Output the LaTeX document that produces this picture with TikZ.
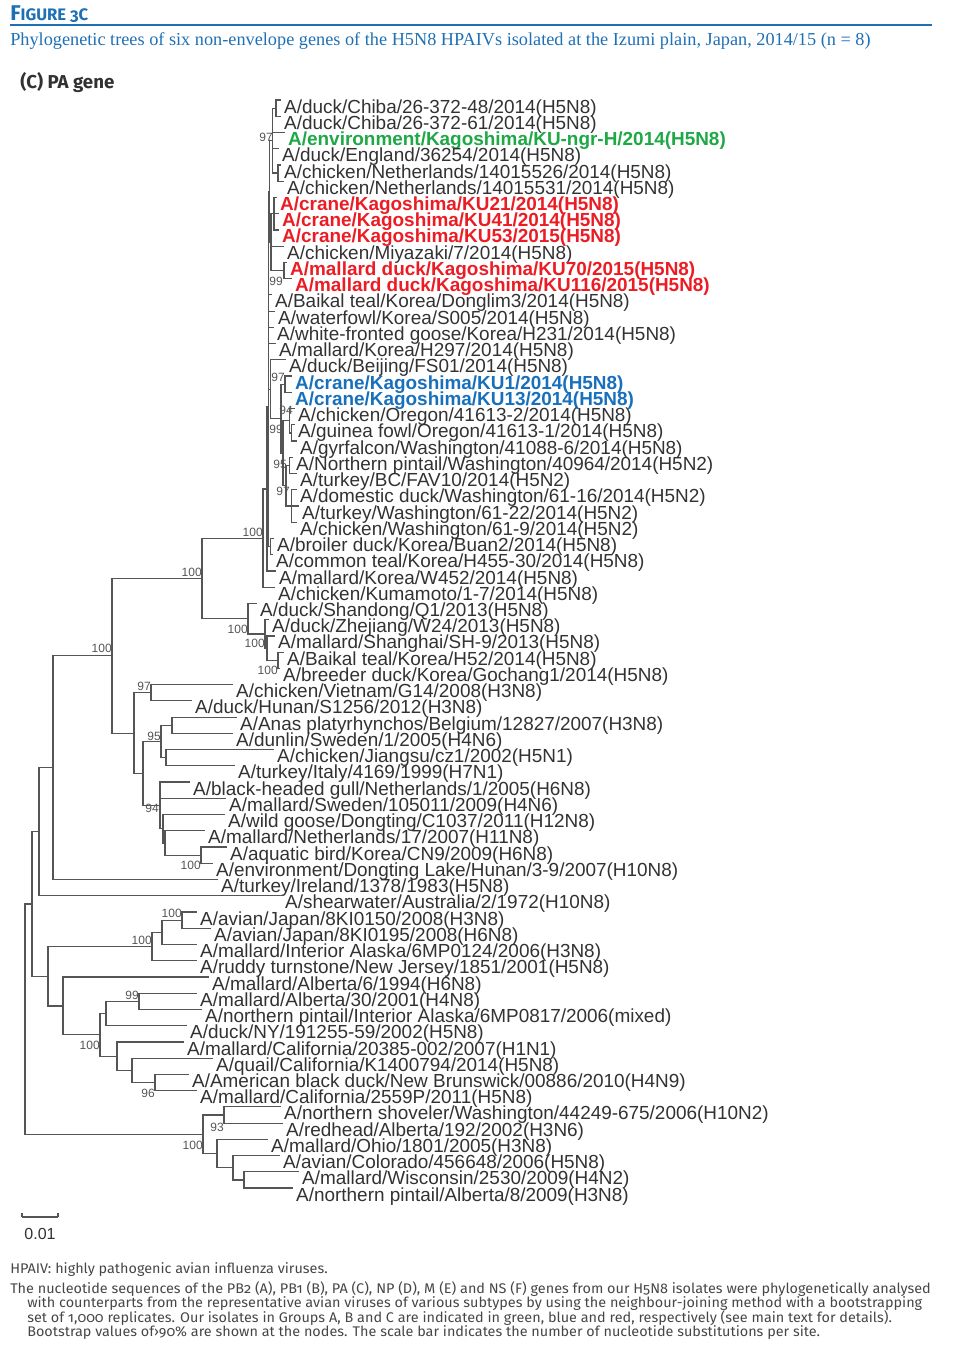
\documentclass[tikz,border=0pt]{standalone}
\usepackage{fontspec}
\usepackage{tikz}
\newfontfamily\leaffont{Liberation Sans}
\newfontfamily\capfont{Liberation Serif}
\newfontfamily\headfont[Numbers=OldStyle]{Fira Sans}
\newfontfamily\notefont[FakeStretch=1.03,Numbers=OldStyle]{Fira Sans}
\definecolor{figblue}{RGB}{30,112,182}
\definecolor{isogreen}{RGB}{30,168,70}
\definecolor{isored}{RGB}{236,28,36}
\definecolor{isoblue}{RGB}{24,112,188}
\definecolor{treegray}{RGB}{85,85,85}
\definecolor{textgray}{RGB}{50,50,50}
\definecolor{notegray}{RGB}{70,70,70}
\tikzset{
	branch/.style={draw=treegray, line width=0.9pt},
	leaf/.style={anchor=north west, inner xsep=2.2pt, inner ysep=0pt, text height=9.6pt, text depth=2.4pt, text=textgray, font=\leaffont\fontsize{14.2}{16}\selectfont},
	isoA/.style={leaf, text=isogreen, font=\leaffont\bfseries\fontsize{14.2}{16}\selectfont},
	isoB/.style={leaf, text=isoblue, font=\leaffont\bfseries\fontsize{14.2}{16}\selectfont},
	isoC/.style={leaf, text=isored, font=\leaffont\bfseries\fontsize{14.2}{16}\selectfont},
	boot/.style={anchor=east, inner sep=0pt, text=treegray, font=\leaffont\fontsize{9}{10}\selectfont},
	note/.style={anchor=base west, inner sep=0pt, text=notegray, font=\notefont\fontsize{10.5}{12}\selectfont}
}
\begin{document}
\begin{tikzpicture}[x=0.75pt, y=-0.75pt]
	\useasboundingbox (0,0) rectangle (954,1345);
	\node[anchor=base west, inner sep=0pt, text=figblue, font=\headfont\bfseries] (fig) at (10,21) {{\fontsize{16}{18}\selectfont F}{\fontsize{12.5}{14}\selectfont IGURE 3C}};
	\draw[figblue, line width=1.5pt] (10,25) -- (932,25);
	\node[anchor=base west, inner sep=0pt, text=figblue, font=\capfont\fontsize{13.7}{15}\selectfont] (sub) at (10,46) {Phylogenetic trees of six non-envelope genes of the H5N8 HPAIVs isolated at the Izumi plain, Japan, 2014/15 (n = 8)};
	\node[anchor=base west, inner sep=0pt, text=textgray, font=\headfont\bfseries\fontsize{14}{16}\selectfont] (panel) at (20,89) {(C) PA gene};

	\node[leaf] (l1) at (281,100) {A/duck/Chiba/26-372-48/2014(H5N8)};
	\node[leaf] (l2) at (281,116.24) {A/duck/Chiba/26-372-61/2014(H5N8)};
	\node[isoA] (l3) at (285,132.48) {A/environment/Kagoshima/KU-ngr-H/2014(H5N8)};
	\node[leaf] (l4) at (279,148.72) {A/duck/England/36254/2014(H5N8)};
	\node[leaf] (l5) at (281,164.96) {A/chicken/Netherlands/14015526/2014(H5N8)};
	\node[leaf] (l6) at (284,181.2) {A/chicken/Netherlands/14015531/2014(H5N8)};
	\node[isoC] (l7) at (277,197.44) {A/crane/Kagoshima/KU21/2014(H5N8)};
	\node[isoC] (l8) at (279,213.68) {A/crane/Kagoshima/KU41/2014(H5N8)};
	\node[isoC] (l9) at (279,229.92) {A/crane/Kagoshima/KU53/2015(H5N8)};
	\node[leaf] (l10) at (284,246.16) {A/chicken/Miyazaki/7/2014(H5N8)};
	\node[isoC] (l11) at (287,262.4) {A/mallard duck/Kagoshima/KU70/2015(H5N8)};
	\node[isoC] (l12) at (292,278.64) {A/mallard duck/Kagoshima/KU116/2015(H5N8)};
	\node[leaf] (l13) at (272,294.88) {A/Baikal teal/Korea/Donglim3/2014(H5N8)};
	\node[leaf] (l14) at (275,311.12) {A/waterfowl/Korea/S005/2014(H5N8)};
	\node[leaf] (l15) at (274,327.36) {A/white-fronted goose/Korea/H231/2014(H5N8)};
	\node[leaf] (l16) at (276,343.6) {A/mallard/Korea/H297/2014(H5N8)};
	\node[leaf] (l17) at (286,359.84) {A/duck/Beijing/FS01/2014(H5N8)};
	\node[isoB] (l18) at (292,376.08) {A/crane/Kagoshima/KU1/2014(H5N8)};
	\node[isoB] (l19) at (292,392.32) {A/crane/Kagoshima/KU13/2014(H5N8)};
	\node[leaf] (l20) at (295,408.56) {A/chicken/Oregon/41613-2/2014(H5N8)};
	\node[leaf] (l21) at (295,424.8) {A/guinea fowl/Oregon/41613-1/2014(H5N8)};
	\node[leaf] (l22) at (297,441.04) {A/gyrfalcon/Washington/41088-6/2014(H5N8)};
	\node[leaf] (l23) at (293,457.28) {A/Northern pintail/Washington/40964/2014(H5N2)};
	\node[leaf] (l24) at (297,473.52) {A/turkey/BC/FAV10/2014(H5N2)};
	\node[leaf] (l25) at (297,489.76) {A/domestic duck/Washington/61-16/2014(H5N2)};
	\node[leaf] (l26) at (299,506) {A/turkey/Washington/61-22/2014(H5N2)};
	\node[leaf] (l27) at (297,522.24) {A/chicken/Washington/61-9/2014(H5N2)};
	\node[leaf] (l28) at (274,538.48) {A/broiler duck/Korea/Buan2/2014(H5N8)};
	\node[leaf] (l29) at (273,554.72) {A/common teal/Korea/H455-30/2014(H5N8)};
	\node[leaf] (l30) at (276,570.96) {A/mallard/Korea/W452/2014(H5N8)};
	\node[leaf] (l31) at (275,587.2) {A/chicken/Kumamoto/1-7/2014(H5N8)};
	\node[leaf] (l32) at (257,603.44) {A/duck/Shandong/Q1/2013(H5N8)};
	\node[leaf] (l33) at (269,619.68) {A/duck/Zhejiang/W24/2013(H5N8)};
	\node[leaf] (l34) at (275,635.92) {A/mallard/Shanghai/SH-9/2013(H5N8)};
	\node[leaf] (l35) at (284,652.16) {A/Baikal teal/Korea/H52/2014(H5N8)};
	\node[leaf] (l36) at (280,668.4) {A/breeder duck/Korea/Gochang1/2014(H5N8)};
	\node[leaf] (l37) at (233,684.64) {A/chicken/Vietnam/G14/2008(H3N8)};
	\node[leaf] (l38) at (192,700.88) {A/duck/Hunan/S1256/2012(H3N8)};
	\node[leaf] (l39) at (237,717.12) {A/Anas platyrhynchos/Belgium/12827/2007(H3N8)};
	\node[leaf] (l40) at (233,733.36) {A/dunlin/Sweden/1/2005(H4N6)};
	\node[leaf] (l41) at (274,749.6) {A/chicken/Jiangsu/cz1/2002(H5N1)};
	\node[leaf] (l42) at (235,765.84) {A/turkey/Italy/4169/1999(H7N1)};
	\node[leaf] (l43) at (190,782.08) {A/black-headed gull/Netherlands/1/2005(H6N8)};
	\node[leaf] (l44) at (226,798.32) {A/mallard/Sweden/105011/2009(H4N6)};
	\node[leaf] (l45) at (225,814.56) {A/wild goose/Dongting/C1037/2011(H12N8)};
	\node[leaf] (l46) at (205,830.8) {A/mallard/Netherlands/17/2007(H11N8)};
	\node[leaf] (l47) at (227,847.04) {A/aquatic bird/Korea/CN9/2009(H6N8)};
	\node[leaf] (l48) at (213,863.28) {A/environment/Dongting Lake/Hunan/3-9/2007(H10N8)};
	\node[leaf] (l49) at (218,879.52) {A/turkey/Ireland/1378/1983(H5N8)};
	\node[leaf] (l50) at (282,895.76) {A/shearwater/Australia/2/1972(H10N8)};
	\node[leaf] (l51) at (197,912) {A/avian/Japan/8KI0150/2008(H3N8)};
	\node[leaf] (l52) at (211,928.24) {A/avian/Japan/8KI0195/2008(H6N8)};
	\node[leaf] (l53) at (197,944.48) {A/mallard/Interior Alaska/6MP0124/2006(H3N8)};
	\node[leaf] (l54) at (197,960.72) {A/ruddy turnstone/New Jersey/1851/2001(H5N8)};
	\node[leaf] (l55) at (209,976.96) {A/mallard/Alberta/6/1994(H6N8)};
	\node[leaf] (l56) at (197,993.2) {A/mallard/Alberta/30/2001(H4N8)};
	\node[leaf] (l57) at (202,1009.44) {A/northern pintail/Interior Alaska/6MP0817/2006(mixed)};
	\node[leaf] (l58) at (187,1025.68) {A/duck/NY/191255-59/2002(H5N8)};
	\node[leaf] (l59) at (184,1041.92) {A/mallard/California/20385-002/2007(H1N1)};
	\node[leaf] (l60) at (213,1058.16) {A/quail/California/K1400794/2014(H5N8)};
	\node[leaf] (l61) at (189,1074.4) {A/American black duck/New Brunswick/00886/2010(H4N9)};
	\node[leaf] (l62) at (197,1090.64) {A/mallard/California/2559P/2011(H5N8)};
	\node[leaf] (l63) at (281,1106.88) {A/northern shoveler/Washington/44249-675/2006(H10N2)};
	\node[leaf] (l64) at (283,1123.12) {A/redhead/Alberta/192/2002(H3N6)};
	\node[leaf] (l65) at (268,1139.36) {A/mallard/Ohio/1801/2005(H3N8)};
	\node[leaf] (l66) at (280,1155.6) {A/avian/Colorado/456648/2006(H5N8)};
	\node[leaf] (l67) at (299,1171.84) {A/mallard/Wisconsin/2530/2009(H4N2)};
	\node[leaf] (l68) at (293,1188.08) {A/northern pintail/Alberta/8/2009(H3N8)};

	\coordinate (n45) at (276,108.12);
	\coordinate (n47) at (278,173.08);
	\coordinate (n46) at (272.5,140.6);
	\coordinate (n50) at (274,213.68);
	\coordinate (n48) at (284,270.52);
	\coordinate (n49) at (271,242.1);
	\coordinate (n44) at (269.5,191.35);
	\coordinate (n41) at (285,384.2);
	\coordinate (n53) at (291.5,432.92);
	\coordinate (n43) at (289.5,420.74);
	\coordinate (n54) at (289.5,465.4);
	\coordinate (n55) at (291.5,506);
	\coordinate (n52) at (286,485.7);
	\coordinate (n51) at (283,453.22);
	\coordinate (n42) at (281,418.71);
	\coordinate (n40) at (270.7,389.28);
	\coordinate (n39) at (270.5,546.6);
	\coordinate (n11) at (268.5,407);
	\coordinate (n10) at (267,489);
	\coordinate (n7) at (263,538.1);
	\coordinate (n38) at (278,660.28);
	\coordinate (n37) at (267,648.1);
	\coordinate (n9) at (265,633.9);
	\coordinate (n8) at (248,618.67);
	\coordinate (n6) at (202,578.4);
	\coordinate (n28) at (151,692.76);
	\coordinate (n32) at (172,725.24);
	\coordinate (n33) at (166,757.72);
	\coordinate (n30) at (161,741.48);
	\coordinate (n35) at (201,855.16);
	\coordinate (n36) at (165,843);
	\coordinate (n34) at (163,828.8);
	\coordinate (n31) at (160,805.4);
	\coordinate (n29) at (143,773.44);
	\coordinate (n27) at (134,733.1);
	\coordinate (n5) at (112,655.75);
	\coordinate (n4) at (53,767.6);
	\coordinate (n2) at (39,831.7);
	\coordinate (n15) at (182,920.12);
	\coordinate (n14) at (162,932.3);
	\coordinate (n12) at (152,946.5);
	\coordinate (n19) at (139,1001.32);
	\coordinate (n17) at (106,1013.5);
	\coordinate (n21) at (155,1082.52);
	\coordinate (n20) at (132,1070.34);
	\coordinate (n18) at (117,1056.13);
	\coordinate (n16) at (100,1034.8);
	\coordinate (n13) at (63,1005.9);
	\coordinate (n3) at (48,976.2);
	\coordinate (n1) at (32,903.95);
	\coordinate (n23) at (224,1115);
	\coordinate (n26) at (244,1179.96);
	\coordinate (n25) at (233,1167.78);
	\coordinate (n24) at (217,1153.57);
	\coordinate (n22) at (203,1134.29);
	\coordinate (root) at (25,1019.12);

	\draw[branch] (n45) |- (l1.north west) (n45) |- (l2.north west);
	\draw[branch] (n47) |- (l5.north west) (n47) |- (l6.north west);
	\draw[branch] (n46) |- (n45) (n46) |- (l3.north west) (n46) |- (l4.north west) (n46) |- (n47);
	\draw[branch] (n50) |- (l7.north west) (n50) |- (l8.north west) (n50) |- (l9.north west);
	\draw[branch] (n48) |- (l11.north west) (n48) |- (l12.north west);
	\draw[branch] (n49) |- (n50) (n49) |- (l10.north west) (n49) |- (n48);
	\draw[branch] (n44) |- (n46) (n44) |- (n49);
	\draw[branch] (n41) |- (l18.north west) (n41) |- (l19.north west);
	\draw[branch] (n53) |- (l21.north west) (n53) |- (l22.north west);
	\draw[branch] (n43) |- (l20.north west) (n43) |- (n53);
	\draw[branch] (n54) |- (l23.north west) (n54) |- (l24.north west);
	\draw[branch] (n55) |- (l25.north west) (n55) |- (l26.north west) (n55) |- (l27.north west);
	\draw[branch] (n52) |- (n54) (n52) |- (n55);
	\draw[branch] (n51) |- (n43) (n51) |- (n52);
	\draw[branch] (n42) |- (n41) (n42) |- (n51);
	\draw[branch] (n40) |- (l17.north west) (n40) |- (n42);
	\draw[branch] (n39) |- (l28.north west) (n39) |- (l29.north west);
	\draw[branch] (n11) |- (n44) (n11) |- (l13.north west) (n11) |- (l14.north west) (n11) |- (l15.north west) (n11) |- (l16.north west) (n11) |- (n40) (n11) |- (n39);
	\draw[branch] (n10) |- (n11) (n10) |- (l30.north west);
	\draw[branch] (n7) |- (n10) (n7) |- (l31.north west);
	\draw[branch] (n38) |- (l35.north west) (n38) |- (l36.north west);
	\draw[branch] (n37) |- (l34.north west) (n37) |- (n38);
	\draw[branch] (n9) |- (l33.north west) (n9) |- (n37);
	\draw[branch] (n8) |- (l32.north west) (n8) |- (n9);
	\draw[branch] (n6) |- (n7) (n6) |- (n8);
	\draw[branch] (n28) |- (l37.north west) (n28) |- (l38.north west);
	\draw[branch] (n32) |- (l39.north west) (n32) |- (l40.north west);
	\draw[branch] (n33) |- (l41.north west) (n33) |- (l42.north west);
	\draw[branch] (n30) |- (n32) (n30) |- (n33);
	\draw[branch] (n35) |- (l47.north west) (n35) |- (l48.north west);
	\draw[branch] (n36) |- (l46.north west) (n36) |- (n35);
	\draw[branch] (n34) |- (l45.north west) (n34) |- (n36);
	\draw[branch] (n31) |- (l43.north west) (n31) |- (l44.north west) (n31) |- (n34);
	\draw[branch] (n29) |- (n30) (n29) |- (n31);
	\draw[branch] (n27) |- (n28) (n27) |- (n29);
	\draw[branch] (n5) |- (n6) (n5) |- (n27);
	\draw[branch] (n4) |- (n5) (n4) |- (l49.north west);
	\draw[branch] (n2) |- (n4) (n2) |- (l50.north west);
	\draw[branch] (n15) |- (l51.north west) (n15) |- (l52.north west);
	\draw[branch] (n14) |- (n15) (n14) |- (l53.north west);
	\draw[branch] (n12) |- (n14) (n12) |- (l54.north west);
	\draw[branch] (n19) |- (l56.north west) (n19) |- (l57.north west);
	\draw[branch] (n17) |- (n19) (n17) |- (l58.north west);
	\draw[branch] (n21) |- (l61.north west) (n21) |- (l62.north west);
	\draw[branch] (n20) |- (l60.north west) (n20) |- (n21);
	\draw[branch] (n18) |- (l59.north west) (n18) |- (n20);
	\draw[branch] (n16) |- (n17) (n16) |- (n18);
	\draw[branch] (n13) |- (l55.north west) (n13) |- (n16);
	\draw[branch] (n3) |- (n12) (n3) |- (n13);
	\draw[branch] (n1) |- (n2) (n1) |- (n3);
	\draw[branch] (n23) |- (l63.north west) (n23) |- (l64.north west);
	\draw[branch] (n26) |- (l67.north west) (n26) |- (l68.north west);
	\draw[branch] (n25) |- (l66.north west) (n25) |- (n26);
	\draw[branch] (n24) |- (l65.north west) (n24) |- (n25);
	\draw[branch] (n22) |- (n23) (n22) |- (n24);
	\draw[branch] (root) |- (n1) (root) |- (n22);

	\node[boot] (b1) at (273,137) {97};
	\node[boot] (b2) at (283,281) {99};
	\node[boot] (b3) at (285,377) {97};
	\node[boot] (b4) at (293,410) {94};
	\node[boot] (b5) at (283,429) {99};
	\node[boot] (b6) at (287,464) {95};
	\node[boot] (b7) at (290,491) {97};
	\node[boot] (b8) at (263,532) {100};
	\node[boot] (b9) at (202,572) {100};
	\node[boot] (b10) at (248,629) {100};
	\node[boot] (b11) at (265,643) {100};
	\node[boot] (b12) at (278,670) {100};
	\node[boot] (b13) at (112,648) {100};
	\node[boot] (b14) at (151,686) {97};
	\node[boot] (b15) at (161,736) {95};
	\node[boot] (b16) at (159,808) {94};
	\node[boot] (b17) at (201,865) {100};
	\node[boot] (b18) at (182,913) {100};
	\node[boot] (b19) at (152,940) {100};
	\node[boot] (b20) at (139,995) {99};
	\node[boot] (b21) at (100,1045) {100};
	\node[boot] (b22) at (155,1093) {96};
	\node[boot] (b23) at (224,1127) {93};
	\node[boot] (b24) at (203,1145) {100};

	\coordinate (sb0) at (22,1217);
	\coordinate (sb1) at (58,1217);
	\draw[branch] (sb0) -- (sb1) (sb0) -- ++(0,-4) (sb1) -- ++(0,-4);
	\node[anchor=base, inner sep=0pt, text=textgray, font=\leaffont\fontsize{12}{14}\selectfont] (sbl) at (40,1239) {0.01};

	\node[note] (abbr) at (10,1273.5) {HPAIV: highly pathogenic avian influenza viruses.};
	\node[note] (leg1) at (10,1293.5) {The nucleotide sequences of the PB2 (A), PB1 (B), PA (C), NP (D), M (E) and NS (F) genes from our H5N8 isolates were phylogenetically analysed};
	\node[note] (leg2) at (27,1307.5) {with counterparts from the representative avian viruses of various subtypes by using the neighbour-joining method with a bootstrapping};
	\node[note] (leg3) at (27,1322.5) {set of 1,000 replicates. Our isolates in Groups A, B and C are indicated in green, blue and red, respectively (see main text for details).};
	\node[note] (leg4) at (27,1336.5) {Bootstrap values of›90\% are shown at the nodes. The scale bar indicates the number of nucleotide substitutions per site.};
\end{tikzpicture}
\end{document}
